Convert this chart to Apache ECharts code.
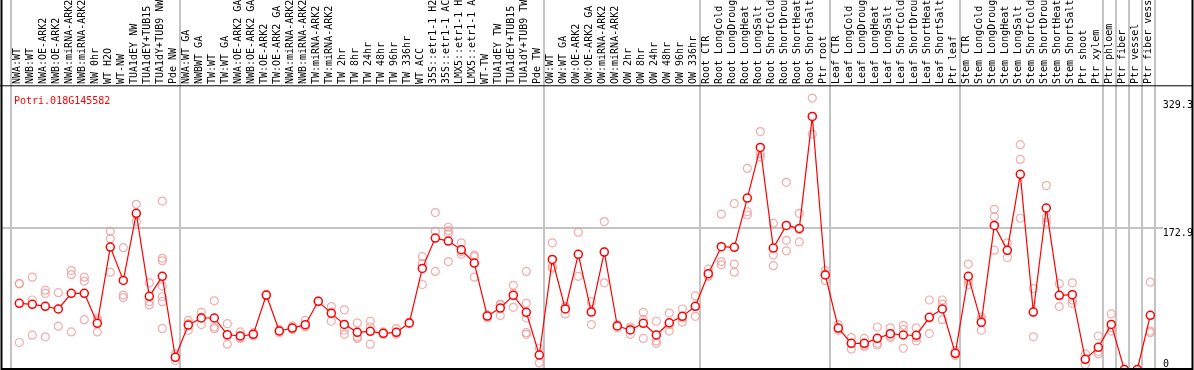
<!DOCTYPE html>
<html><head><meta charset="utf-8">
<script src="https://cdn.jsdelivr.net/npm/echarts@6/dist/echarts.min.js"></script>
<style>html,body{margin:0;padding:0;background:#fff}#c{width:1194px;height:370px}</style>
</head><body><div id="c"></div>
<script>
const geneId = 'Potri.018G145582';
const categories = [
'NWA:WT','NWB:WT','NWA:OE-ARK2','NWB:OE-ARK2','NWA:miRNA-ARK2','NWB:miRNA-ARK2','NW 0hr','WT H2O','WT-NW','TUA1dEY NW',
'TUA1dEY+TUB15','TUA1dY+TUB9 NW','Pde NW','NWA:WT GA','NWBWT GA','TW:WT','TW:WT GA','NWA:OE-ARK2 GA','NWB:OE-ARK2 GA','TW:OE-ARK2',
'TW:OE-ARK2 GA','NWA:miRNA-ARK2','NWB:miRNA-ARK2','TW:miRNA-ARK2','TW:miRNA-ARK2','TW 2hr','TW 8hr','TW 24hr','TW 48hr','TW 96hr',
'TW 336hr','WT ACC','35S::etr1-1 H2','35S::etr1-1 AC','LMX5::etr1-1 H','LMX5::etr1-1 A','WT-TW','TUA1dEY TW','TUA1dEY+TUB15','TUA1dY+TUB9 TW',
'Pde TW','OW:WT','OW:WT GA','OW:OE-ARK2','OW:OE-ARK2 GA','OW:miRNA-ARK2','OW:miRNA-ARK2','OW 2hr','OW 8hr','OW 24hr',
'OW 48hr','OW 96hr','OW 336hr','Root CTR','Root LongCold','Root LongDroug','Root LongHeat','Root LongSalt','Root ShortCold','Root ShortDrou',
'Root ShortHeat','Root ShortSalt','Ptr root','Leaf CTR','Leaf LongCold','Leaf LongDroug','Leaf LongHeat','Leaf LongSalt','Leaf ShortCold','Leaf ShortDrou',
'Leaf ShortHeat','Leaf ShortSalt','Ptr leaf','Stem CTR','Stem LongCold','Stem LongDroug','Stem LongHeat','Stem LongSalt','Stem ShortCold','Stem ShortDrou',
'Stem ShortHeat','Stem ShortSalt','Ptr shoot','Ptr xylem','Ptr phloem','Ptr fiber','Ptr vessel','Ptr fiber vess'
];
const means = [
80.9, 79.7, 77.3, 74.0, 93.2, 93.2, 56.5, 149.8, 109.0, 191.0,
89.5, 114.0, 14.9, 54.4, 63.0, 63.0, 42.6, 41.0, 43.0, 91.1,
47.1, 50.7, 54.8, 83.4, 68.7, 55.2, 45.5, 46.7, 44.2, 45.5,
56.9, 123.7, 160.8, 157.1, 146.5, 130.2, 65.4, 75.2, 90.7, 69.9,
17.7, 134.7, 74.0, 140.9, 70.3, 143.7, 53.2, 48.3, 56.5, 42.2,
57.2, 65.0, 77.3, 117.2, 150.2, 149.4, 209.7, 271.7, 148.6, 176.3,
172.6, 309.6, 115.6, 50.7, 32.0, 32.0, 38.1, 43.8, 42.2, 41.8,
63.8, 74.0, 19.8, 114.0, 57.7, 176.3, 145.8, 238.7, 70.3, 197.5,
90.7, 91.5, 12.5, 27.1, 55.2, 0, 0, 66.3
];
const replicates = [
[105,105,33],[113,85,42],[97,93,40],[94,74,53],[121,116,46],[113,108,61],[63,60,46],[169,160,119],[149,91,88],[202,190,181],
[106,83,79],[206,136,133,102,89,83,50],[19,15,11],[60,56,48],[70,64,55],[84,52,50],[56,41,31],[46,39,38],[45,43,41],[92,90],
[49,47,45],[53,51,49],[60,53,52],[84,83],[77,70,59],[73,48,43],[57,40,38],[59,52,31],[46,44,43],[50,45,43],
[58,56],[138,130,104],[192,169,120],[174,170,166,132],[155,144,141],[140,138,113],[67,65,63],[80,79,66],[103,93,76],[120,81,63,45,43],
[26,18,8],[155,126,124],[77,77,68],[168,141,114],[83,72,55],[181,144,106],[55,54,51],[52,50,43],[70,61,38],[59,35,32],
[69,55,47],[74,63,58],[90,77,65],[123,115,114],[190,132,128],[203,129,119],[246,193,189],[291,264,260],[179,140,127],[229,158,145],
[191,171,156],[332,309,288],[121,117,109],[55,50,48],[39,32,25],[38,30,28],[52,32,30],[51,41,39],[54,49,26],[51,39,35],
[85,63,44],[85,80,61],[23,19,17],[129,109,104],[64,61,48],[196,187,146],[155,146,137],[275,257,185],[99,70,40],[225,186,180],
[105,90,77],[106,85,81],[19,12,6],[41,22,19],[68,51,47],[0,0],[0,0],[107,47,45]
];
const yLabelValues = [172.9, 329.3];
const yZeroLabel = [0];
const groupStarts = [0, 13, 41, 53, 63, 73, 84, 85, 86, 87];

const repPoints = [];
replicates.forEach((arr, i) => arr.forEach(v => repPoints.push([i, v])));

const FONT = 'DejaVu Sans Mono';
const Y_MAX = 346.8;
const chart = echarts.init(document.getElementById('c'), null, {renderer: 'canvas'});
chart.setOption({
  animation: false,
  backgroundColor: '#fff',
  title: {text: geneId, left: 9, top: 91, textStyle: {color: '#ff0000', fontSize: 10, fontFamily: FONT, fontWeight: 'normal'}},
  grid: [
    {left: 11, width: 1144, top: 0, bottom: 0.5, outerBoundsMode: 'none', containLabel: false},
    {left: 12.8, width: 1144, top: 86, bottom: 0.5, outerBoundsMode: 'none', containLabel: false},
    {left: 1, width: 1162, top: 369.5 - 172.9 * 283.5 / Y_MAX, bottom: 0.5, outerBoundsMode: 'none', containLabel: false}
  ],
  xAxis: [
    {gridIndex: 0, type: 'category', data: categories, position: 'top', offset: -86, boundaryGap: true,
     axisLine: {show: false}, axisTick: {show: false},
     axisLabel: {interval: 0, rotate: 90, margin: 2, fontFamily: FONT, fontSize: 10, color: '#000'},
     splitLine: {show: true, interval: (idx) => groupStarts.indexOf(idx) >= 0, lineStyle: {color: '#c4c4c4', width: 2}}},
    {gridIndex: 1, type: 'category', data: categories, boundaryGap: true, show: false},
    {gridIndex: 2, type: 'value', min: 0, max: 1, show: false}
  ],
  yAxis: [
    {gridIndex: 0, type: 'value', min: 0, max: 1, show: false},
    {gridIndex: 1, type: 'value', min: 0, max: Y_MAX, position: 'right',
     axisLine: {show: false}, axisTick: {show: false}, splitLine: {show: false},
     axisLabel: {customValues: yLabelValues, margin: 6, verticalAlign: 'top', fontFamily: FONT, fontSize: 10, color: '#000',
       formatter: v => String(v)}},
    {gridIndex: 2, type: 'value', min: 0, max: 172.9, interval: 172.9, position: 'right',
     axisLine: {show: false}, axisTick: {show: false},
     splitLine: {show: true, lineStyle: {color: '#c4c4c4', width: 2}},
     axisLabel: {customValues: yZeroLabel, margin: 0, verticalAlign: 'bottom', fontFamily: FONT, fontSize: 10, color: '#000',
       formatter: v => String(v)}}
  ],
  series: [
    {type: 'scatter', xAxisIndex: 1, yAxisIndex: 1, data: repPoints, symbol: 'circle', symbolSize: 8, silent: true, z: 2,
     itemStyle: {color: 'rgba(0,0,0,0)', borderColor: '#ee9999', borderWidth: 1.2}},
    {type: 'line', xAxisIndex: 1, yAxisIndex: 1, data: means, symbol: 'circle', symbolSize: 8, showSymbol: true, showAllSymbol: true,
     silent: true, z: 3, lineStyle: {color: '#ff0000', width: 1.2},
     itemStyle: {color: '#ffffff', borderColor: '#ff0000', borderWidth: 1.5}}
  ],
  graphic: [
    {type: 'line', shape: {x1: 0, y1: 85.8, x2: 1192, y2: 85.8}, style: {stroke: '#000', lineWidth: 1}, z: 100, silent: true},
    {type: 'rect', shape: {x: 1.5, y: -2, width: 1191, height: 371}, style: {fill: 'none', stroke: '#000', lineWidth: 2}, z: 100, silent: true}
  ]
});
</script></body></html>
